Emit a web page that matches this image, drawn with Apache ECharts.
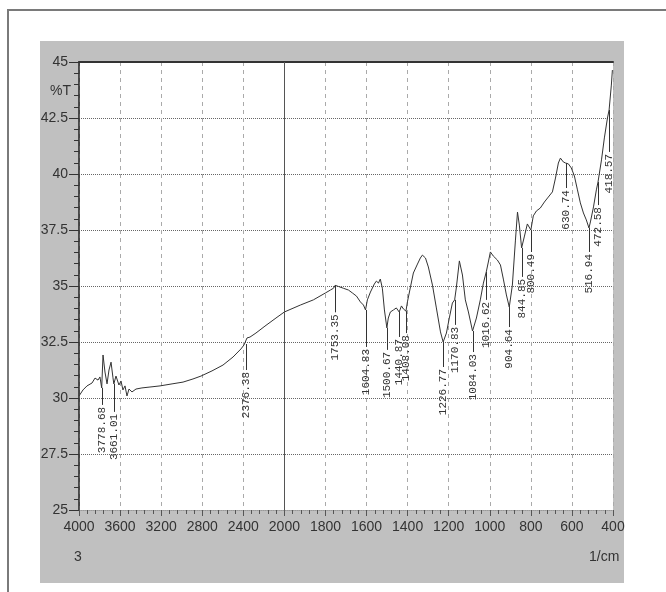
<!DOCTYPE html>
<html>
<head>
<meta charset="utf-8">
<script src="https://cdn.jsdelivr.net/npm/echarts@6/dist/echarts.min.js"></script>
<style>
html, body { margin: 0; padding: 0; background: #fff; }
#root { width: 666px; height: 592px; }
</style>
</head>
<body>
<div id="root"></div>
<script>
/**
 * 红外光谱数据: 波数 (1/cm) 与 透过率 (%T)
 */
var wavenumber = [
  4000, 3961, 3922, 3873, 3844, 3815, 3796, 3779, 3766, 3747, 3727, 3708, 3688, 3669, 3661,
  3640, 3611, 3591, 3572, 3552, 3533, 3513, 3484, 3445, 3387, 3309, 3211, 3094, 2987, 2890,
  2812, 2705, 2598, 2500, 2423, 2393, 2376, 2364, 2335, 2277, 2189, 2082, 2000,
  1922, 1859, 1800, 1776, 1761, 1753, 1737, 1713, 1688, 1669, 1649, 1630, 1615, 1605, 1596,
  1581, 1562, 1552, 1542, 1533, 1523, 1513, 1501, 1494, 1484, 1469, 1455, 1441, 1430, 1420,
  1408, 1401, 1386, 1372, 1352, 1338, 1328, 1313, 1299, 1279, 1260, 1240, 1227, 1211, 1197,
  1182, 1171, 1163, 1148, 1133, 1119, 1104, 1084, 1065, 1046, 1031, 1017, 1007, 997, 983,
  963, 948, 933, 919, 905, 890, 875, 865, 856, 845, 831, 817, 800, 788, 773, 754, 734, 715,
  695, 680, 666, 656, 642, 631, 617, 603, 588, 573, 559, 544, 530, 517, 510, 495, 481, 473,
  456, 442, 427, 419, 408, 403
];
var transmit = [
  30.09, 30.36, 30.54, 30.67, 30.89, 30.80, 30.94, 30.45, 31.92, 31.16, 30.63, 31.25, 31.60, 30.90, 30.63,
  30.98, 30.58, 30.76, 30.36, 30.54, 30.09, 30.40, 30.27, 30.40, 30.45, 30.49, 30.54, 30.63, 30.71, 30.85,
  30.98, 31.21, 31.47, 31.83, 32.19, 32.37, 32.41, 32.68, 32.72, 32.90, 33.21, 33.57, 33.84,
  34.15, 34.38, 34.69, 34.82, 34.90, 35.03, 34.98, 34.90, 34.82, 34.69, 34.55, 34.29, 34.15, 33.93, 34.38,
  34.73, 35.09, 35.22, 35.13, 35.31, 34.90, 33.93, 33.13, 33.57, 33.84, 33.93, 34.02, 33.84, 34.11, 33.97,
  33.88, 34.29, 34.96, 35.58, 35.98, 36.25, 36.38, 36.25, 35.85, 35.04, 34.02, 32.95, 32.50, 32.90, 33.57,
  34.24, 34.38, 34.91, 36.12, 35.49, 34.38, 33.84, 32.99, 33.57, 34.38, 35.13, 35.63, 36.07, 36.52, 36.34,
  36.16, 35.94, 35.27, 34.60, 34.06, 35.04, 37.05, 38.30, 37.72, 36.70, 37.23, 37.77, 37.50, 38.13, 38.35, 38.48, 38.75, 38.97,
  39.20, 39.82, 40.49, 40.71, 40.54, 40.49, 40.45, 40.27, 39.91, 39.29, 38.71, 38.26, 37.95, 37.59, 37.86, 38.53, 39.29, 39.64,
  40.63, 41.61, 42.50, 42.86, 43.97, 44.64
];

/**
 * 标注的峰位
 */
var peakText = ['3778.68', '3661.01', '2376.38', '1753.35', '1604.83', '1500.67', '1440.87', '1408.08',
  '1226.77', '1170.83', '1084.03', '1016.62', '904.64', '844.85', '800.49', '630.74', '516.94', '472.58', '418.57'];
var peakT = [30.45, 30.63, 32.41, 35.03, 33.93, 33.13, 33.84, 33.88,
  32.50, 34.38, 32.99, 35.63, 34.06, 36.70, 37.50, 40.49, 37.59, 39.64, 42.86];
// 引线长度(px)
var peakLead = [17, 28, 26, 27, 37, 22, 25, 22, 25, 25, 21, 28, 20, 29, 22, 25, 24, 23, 42];

// x轴刻度: 2000以上每格400, 以下每格200
var xTicks = [4000, 3600, 3200, 2800, 2400, 2000, 1800, 1600, 1400, 1200, 1000, 800, 600, 400];
var yMin = 25, yMax = 45, yStep = 2.5;

// 波数 -> 格子位置
function toU(w) {
  for (var i = 0; i < xTicks.length - 1; i++) {
    if (w >= xTicks[i + 1]) {
      return i + (xTicks[i] - w) / (xTicks[i] - xTicks[i + 1]);
    }
  }
  return xTicks.length - 1;
}

var sans = "'Liberation Sans', Arial, sans-serif";

var option = {
  backgroundColor: '#fff',
  animation: false,
  graphic: [
    {
      type: 'rect', z: -10, silent: true,
      shape: {x: 40, y: 41, width: 584, height: 542},
      style: {fill: '#c0c0c0'}
    },
    {
      type: 'rect', z: -10, silent: true,
      shape: {x: 8, y: 10, width: 700, height: 700},
      style: {fill: 'none', stroke: '#7a7a7a', lineWidth: 2}
    },
    {
      type: 'text', left: 50, top: 84,
      style: {text: '%T', font: '14px ' + sans, fill: '#333'}
    },
    {
      type: 'text', left: 74, top: 550,
      style: {text: '3', font: '14px ' + sans, fill: '#333'}
    },
    {
      type: 'text', left: 589, top: 550,
      style: {text: '1/cm', font: '14px ' + sans, fill: '#333'}
    }
  ],
  grid: {
    left: 79,
    right: 53,
    top: 62,
    bottom: 82,
    show: true,
    backgroundColor: '#fff',
    borderWidth: 0
  },
  xAxis: [
    {
      type: 'value',
      min: 0,
      max: xTicks.length - 1,
      interval: 1,
      axisLine: {show: true, lineStyle: {color: '#999', type: 'dotted'}},
      axisTick: {show: true, length: 6, lineStyle: {color: '#555'}},
      minorTick: {show: true, splitNumber: 5, length: 4, lineStyle: {color: '#555'}},
      splitLine: {show: true, lineStyle: {color: '#aaa', type: [4, 4]}},
      axisLabel: {
        margin: 10,
        fontSize: 14,
        fontFamily: sans,
        color: '#333',
        formatter: function(value) {
          return xTicks[Math.round(value)];
        }
      }
    },
    {
      type: 'value',
      position: 'top',
      min: 0,
      max: xTicks.length - 1,
      axisLine: {show: true, lineStyle: {color: '#333', width: 2}},
      axisTick: {show: false},
      axisLabel: {show: false},
      splitLine: {show: false}
    }
  ],
  yAxis: {
    type: 'value',
    min: yMin,
    max: yMax,
    interval: yStep,
    axisLine: {show: true, lineStyle: {color: '#222', width: 1.5}},
    axisTick: {show: true, length: 10, lineStyle: {color: '#333'}},
    minorTick: {show: true, splitNumber: 5, length: 5, lineStyle: {color: '#333'}},
    splitLine: {show: true, lineStyle: {color: '#666', type: 'dotted'}},
    axisLabel: {
      margin: 11,
      fontSize: 14,
      fontFamily: sans,
      color: '#333'
    }
  },
  series: [
    {
      name: '%T',
      type: 'line',
      showSymbol: false,
      lineStyle: {color: '#333', width: 1},
      data: wavenumber.map(function(w, i) {
        return [toU(w), transmit[i]];
      }),
      markLine: {
        silent: true,
        symbol: 'none',
        label: {show: false},
        lineStyle: {color: '#555', type: 'solid', width: 1},
        data: [{xAxis: toU(2000)}]
      }
    },
    {
      name: 'peaks',
      type: 'custom',
      data: peakText.map(function(t, i) {
        return [toU(parseFloat(t)), peakT[i], i];
      }),
      renderItem: function(params, api) {
        var p = api.coord([api.value(0), api.value(1)]);
        var i = api.value(2);
        var x = Math.round(p[0]) + 0.5;
        var y2 = p[1] + peakLead[i];
        return {
          type: 'group',
          children: [
            {
              type: 'line',
              shape: {x1: x, y1: p[1], x2: x, y2: y2},
              style: {stroke: '#333', lineWidth: 1}
            },
            {
              type: 'text',
              x: x,
              y: y2 + 2,
              rotation: Math.PI / 2,
              style: {
                text: peakText[i],
                align: 'right',
                verticalAlign: 'middle',
                font: "11px 'Liberation Mono', 'DejaVu Sans Mono', monospace",
                fill: '#333'
              }
            }
          ]
        };
      }
    }
  ]
};

var myChart = echarts.init(document.getElementById('root'));
myChart.setOption(option);
</script>
</body>
</html>
